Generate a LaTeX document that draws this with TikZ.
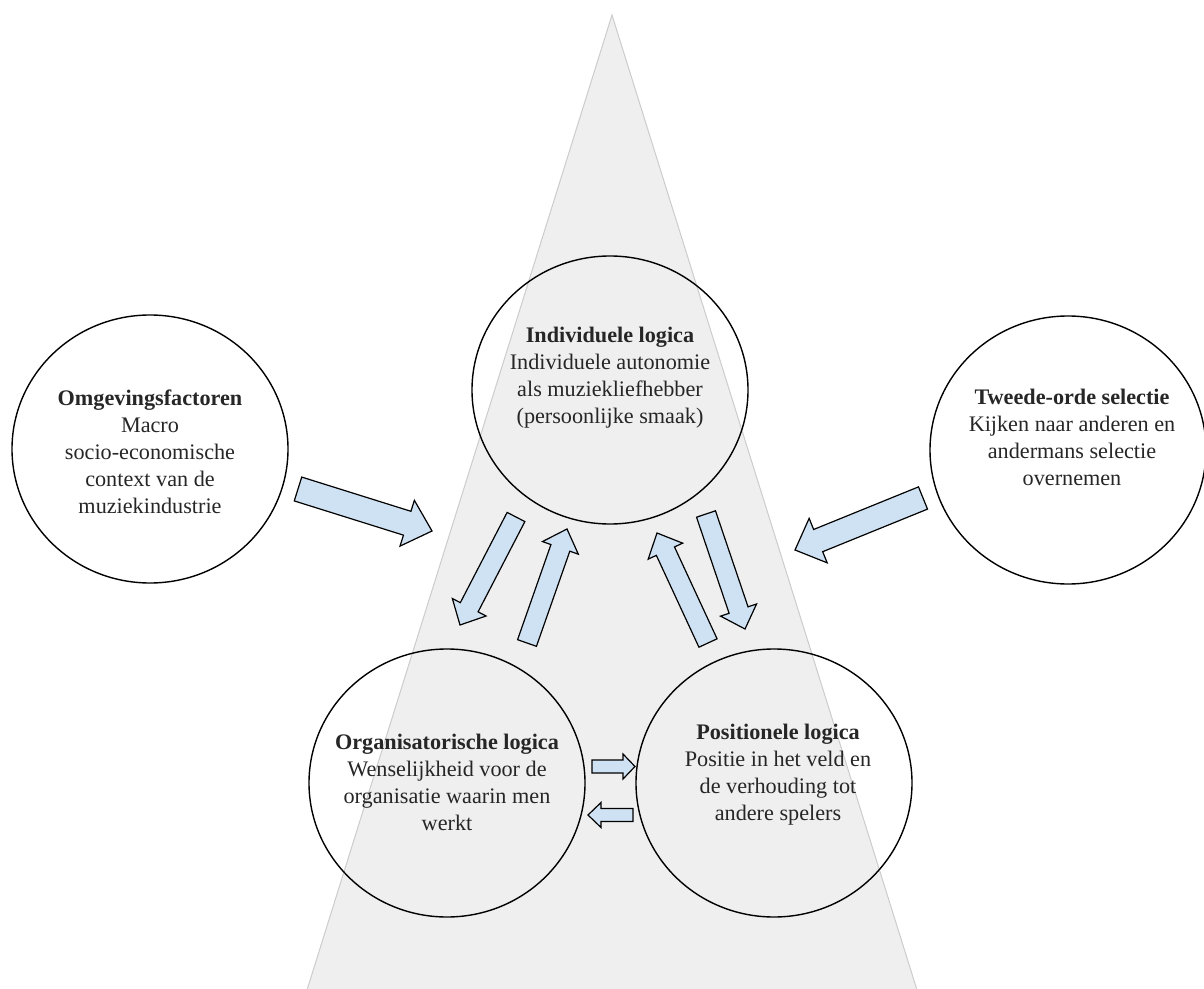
\documentclass[tikz,border=0pt]{standalone}
\usepackage{fontspec}
\setmainfont{Liberation Serif}
\usetikzlibrary{calc,shapes.geometric}
\definecolor{arrowblue}{HTML}{CFE2F3}
\definecolor{trifill}{HTML}{EFEFEF}
\definecolor{triline}{HTML}{CCCCCC}
\tikzset{
  ell/.style={draw=black, line width=0.7pt, ellipse, minimum width=138pt, minimum height=134pt, inner sep=0pt},
  lbl/.style={align=center, font=\fontsize{11.1}{13.5}\selectfont, text=black!85, inner sep=0pt},
  barrow/.style={draw=black, line width=0.6pt, fill=arrowblue, line join=miter},
}
\newcommand\blockarrow[5]{%
  \coordinate (#1-h) at ($(#2)!#5!(#1)$);
  \draw[barrow] ($(#1)!#3!90:(#2)$) -- ($(#1-h)!#3!90:(#2)$) -- ($(#1-h)!#4!90:(#2)$) -- (#2)
    -- ($(#1-h)!#4!-90:(#2)$) -- ($(#1-h)!#3!-90:(#2)$) -- ($(#1)!#3!-90:(#2)$) -- cycle;}
\begin{document}
\begin{tikzpicture}[x=0.5pt,y=-0.5pt]
\useasboundingbox (0,0) rectangle (1204,989);
% triangle
\coordinate (apex) at (612,15);
\coordinate (bl) at (307,990);
\coordinate (br) at (917,990);
\draw[draw=triline, fill=trifill, line width=0.5pt] (apex) -- (br) -- (bl) -- cycle;
% circles
\node[ell] (omg) at (150,449) {};
\node[ell] (ind) at (610,390) {};
\node[ell] (twe) at (1068,450) {};
\node[ell] (org) at (447,783) {};
\node[ell] (pos) at (774,783) {};
% texts
\node[lbl] (omgt) at (150,452) {\textbf{Omgevingsfactoren}\\Macro\\socio-economische\\context van de\\muziekindustrie};
\node[lbl] (indt) at (610,378) {\textbf{Individuele logica}\\Individuele autonomie\\als muziekliefhebber\\(persoonlijke smaak)};
\node[lbl] (twet) at (1072,437) {\textbf{Tweede-orde selectie}\\Kijken naar anderen en\\andermans selectie\\overnemen};
\node[lbl] (orgt) at (447,782) {\textbf{Organisatorische logica}\\Wenselijkheid voor de\\organisatie waarin men\\werkt};
\node[lbl] (post) at (778,775) {\textbf{Positionele logica}\\Positie in het veld en\\de verhouding tot\\andere spelers};
% arrow coordinates
\coordinate (a1t) at (298,489); \coordinate (a1h) at (432,531);
\coordinate (a2t) at (923,498); \coordinate (a2h) at (795,550);
\coordinate (a3t) at (516,517); \coordinate (a3h) at (460,625);
\coordinate (a4t) at (527,643); \coordinate (a4h) at (567,529);
\coordinate (a5t) at (708,643); \coordinate (a5h) at (657,533);
\coordinate (a6t) at (706,514); \coordinate (a6h) at (745,629);
\coordinate (a7t) at (592,766.5); \coordinate (a7h) at (635,766.5);
\coordinate (a8t) at (633,815); \coordinate (a8h) at (588,815);
\blockarrow{a1t}{a1h}{6.25pt}{12pt}{13pt}
\blockarrow{a2t}{a2h}{6pt}{12pt}{12.5pt}
\blockarrow{a3t}{a3h}{5pt}{9.5pt}{10pt}
\blockarrow{a4t}{a4h}{5pt}{9.5pt}{10pt}
\blockarrow{a5t}{a5h}{5pt}{9.5pt}{10pt}
\blockarrow{a6t}{a6h}{5pt}{9.5pt}{10pt}
\blockarrow{a7t}{a7h}{3.25pt}{6.25pt}{6pt}
\blockarrow{a8t}{a8h}{3.25pt}{6.25pt}{6.5pt}
\end{tikzpicture}
\end{document}
